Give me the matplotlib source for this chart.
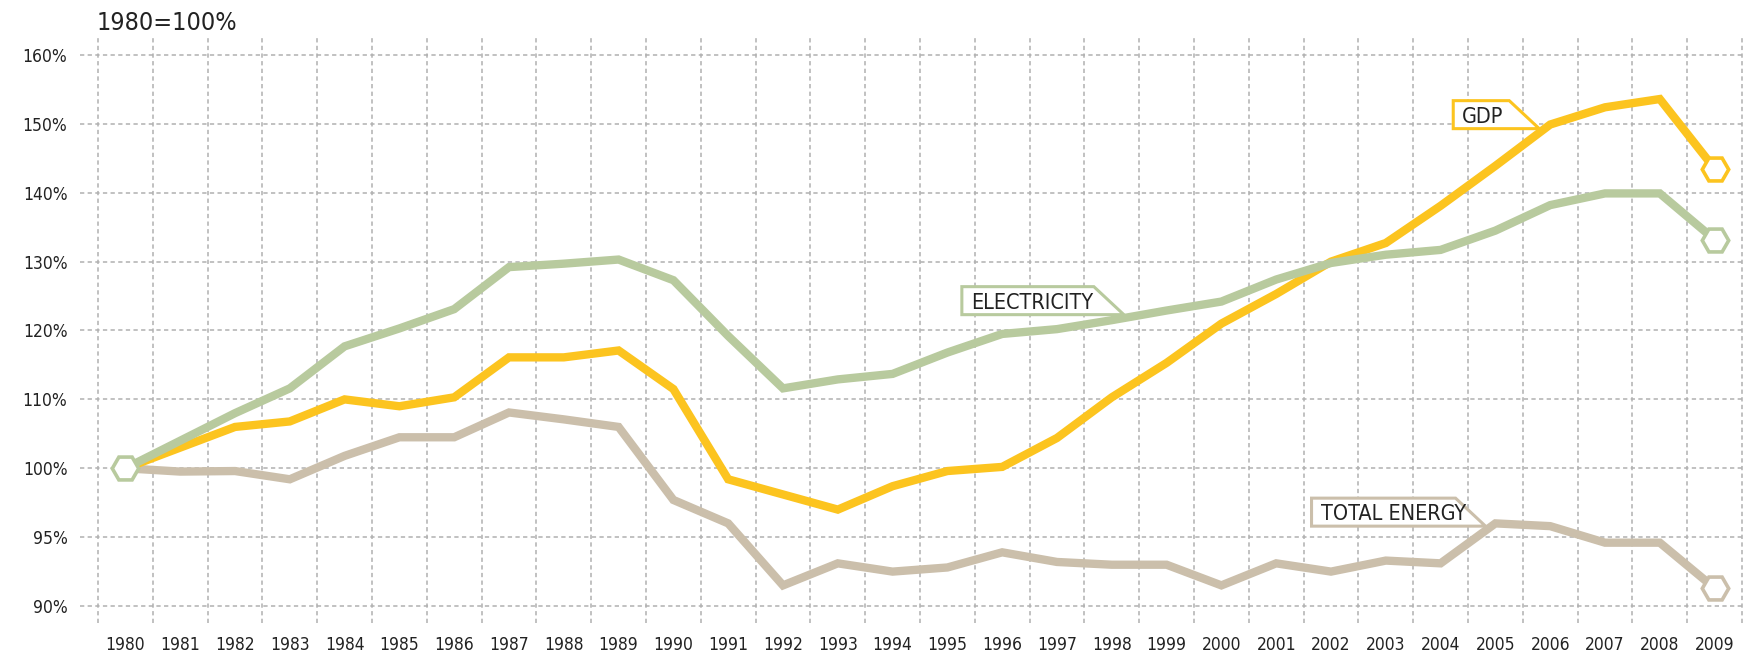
import numpy as np
import matplotlib
matplotlib.use('Agg')
import matplotlib.pyplot as plt
import matplotlib.transforms as mtransforms
from matplotlib.patches import Polygon
from matplotlib.ticker import FixedLocator, NullFormatter

# values (1980 = 100%)
years = np.arange(1980, 2010)
gdp = [100.0, 103.0, 106.0, 106.8, 110.0, 109.0, 110.3, 116.1, 116.1, 117.1,
       111.5, 99.2, 98.1, 97.0, 98.7, 99.8, 100.2, 104.4, 110.3, 115.3,
       121.0, 125.3, 130.0, 132.7, 138.1, 143.9, 149.9, 152.4, 153.6, 143.5]
electricity = [100.0, 104.0, 108.0, 111.6, 117.7, 120.3, 123.1, 129.2, 129.7, 130.3,
               127.3, 119.2, 111.6, 112.9, 113.7, 116.8, 119.5, 120.2, 121.5, 122.9,
               124.2, 127.4, 129.8, 131.0, 131.7, 134.5, 138.2, 139.9, 139.9, 133.2]
total_energy = [100.0, 99.76, 99.8, 99.2, 101.8, 104.5, 104.5, 108.1, 107.1, 106.0,
                97.7, 96.0, 91.5, 93.1, 92.5, 92.8, 93.9, 93.2, 93.0, 93.0,
                91.5, 93.1, 92.5, 93.3, 93.1, 96.0, 95.8, 94.6, 94.6, 91.3]

ytick_vals = [90, 95, 100, 110, 120, 130, 140, 150, 160]
ytick_labels = ['90%', '95%', '100%', '110%', '120%', '130%', '140%', '150%', '160%']

col_gdp = '#fcc41f'
col_elec = '#b8ca9e'
col_energy = '#cbbfab'
txt_col = '#222222'

# axis below 100% is stretched x2 (5% steps get same room as 10% steps)
def fwd(v):
    v = np.asarray(v, dtype=float)
    return np.where(v >= 100, (v - 100) / 10.0, (v - 100) / 5.0)

def inv(p):
    p = np.asarray(p, dtype=float)
    return np.where(p >= 0, 100 + 10 * p, 100 + 5 * p)

plt.rcParams['font.family'] = ['DejaVu Sans']
plt.rcParams['font.stretch'] = 'condensed'

fig = plt.figure(figsize=(17.45, 6.51), dpi=100)
ax = fig.add_axes([80 / 1745, 1 - 623 / 651, 1 - 80 / 1745, (623 - 36) / 651])
ax.set_yscale('function', functions=(fwd, inv))

series = [(total_energy, col_energy), (gdp, col_gdp), (electricity, col_elec)]
for i, (vals, c) in enumerate(series):
    ax.plot(years, vals, color=c, lw=6, zorder=3 + i, solid_joinstyle='miter',
            solid_capstyle='butt')
    ax.plot(years[-1], vals[-1], marker='H', ms=19, mfc='white', mec=c, mew=2.6,
            zorder=6 + i)
ax.plot(years[0], electricity[0], marker='H', ms=19, mfc='white', mec=col_elec,
        mew=2.6, zorder=9)

ax.set_xlim(1979.5 - 18 / 54.8, 2009.5 + 3 / 54.8)
ax.set_ylim(88.77, 162.75)

ax.set_xticks(years)
ax.set_xticklabels([str(y) for y in years])
ax.xaxis.set_minor_locator(FixedLocator(np.arange(1979.5, 2010.5, 1.0)))
ax.xaxis.set_minor_formatter(NullFormatter())
ax.set_yticks(ytick_vals)
ax.set_yticklabels(ytick_labels)
ax.yaxis.set_minor_locator(FixedLocator([]))

ax.tick_params(axis='both', which='both', length=0, labelsize=12.5, colors=txt_col)
ax.tick_params(axis='x', pad=9)
ax.tick_params(axis='y', pad=9)

grid_kw = dict(color='#b0b0b0', lw=1.1, ls=(0, (2.8, 2.2)))
ax.grid(False)
ax.xaxis.grid(True, which='minor', **grid_kw)
ax.yaxis.grid(True, which='major', **grid_kw)
ax.set_axisbelow(True)
for s in ax.spines.values():
    s.set_visible(False)

fig.text(97 / 1745, 1 - 30 / 651, '1980=100%', fontsize=18, color=txt_col,
         ha='left', va='baseline')

# label tabs: (text, tip year, tip value, box width px, colour)
labels = [('GDP', 2005.8, 149.3, 86, col_gdp),
          ('ELECTRICITY', 1998.22, 122.3, 162, col_elec),
          ('TOTAL ENERGY', 2004.82, 95.8, 174, col_energy)]
for text, lx, ly, w, c in labels:
    tx, ty = ax.transData.transform((lx, ly))
    h, d = 28, 30
    verts = [(tx - w, ty), (tx, ty), (tx - d, ty + h), (tx - w, ty + h)]
    poly = Polygon(verts, closed=True, fc='white', ec=c, lw=2.2,
                   transform=mtransforms.IdentityTransform(), zorder=10)
    ax.add_patch(poly)
    fig.text((tx - w + 9) / fig.bbox.width, (ty + h / 2) / fig.bbox.height, text,
             fontsize=15.5, color=txt_col, ha='left', va='center_baseline', zorder=11)

fig.savefig('out.png', dpi=100)
